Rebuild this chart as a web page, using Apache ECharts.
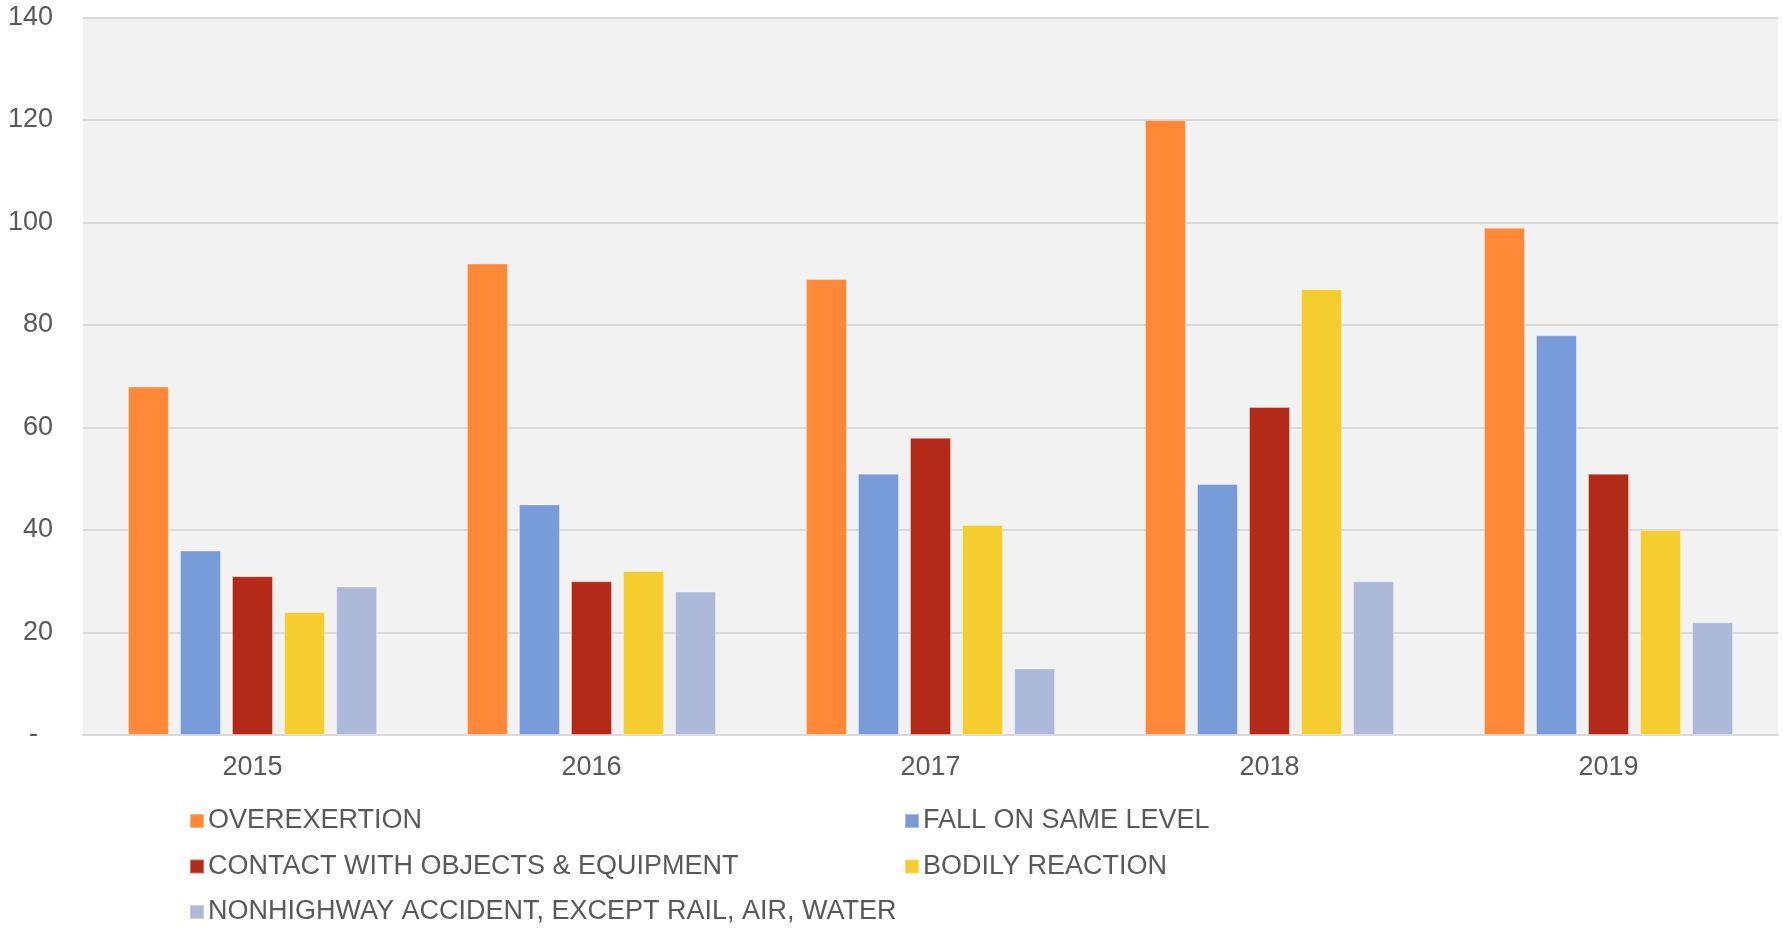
<!DOCTYPE html>
<html>
<head>
<meta charset="utf-8">
<script src="https://cdn.jsdelivr.net/npm/echarts@6/dist/echarts.min.js"></script>
<style>
html,body{margin:0;padding:0;background:#fff;}
#chart{width:1783px;height:928px;}
</style>
</head>
<body>
<div id="chart"></div>
<script>
const years = ['2015', '2016', '2017', '2018', '2019'];
const overexertion = [68, 92, 89, 120, 99];
const fallSameLevel = [36, 45, 51, 49, 78];
const contactObjects = [31, 30, 58, 64, 51];
const bodilyReaction = [24, 32, 41, 87, 40];
const nonhighway = [29, 28, 13, 30, 22];

const seriesNames = [
  'OVEREXERTION',
  'FALL ON SAME LEVEL',
  'CONTACT WITH OBJECTS & EQUIPMENT',
  'BODILY REACTION',
  'NONHIGHWAY ACCIDENT, EXCEPT RAIL, AIR, WATER'
];
const seriesData = [overexertion, fallSameLevel, contactObjects, bodilyReaction, nonhighway];
const colors = ['#FF8937', '#789CDA', '#B32B18', '#F5CD2F', '#ADB9D8'];

const legendPos = [
  {left: 189, top: 807.5},
  {left: 904, top: 807.5},
  {left: 189, top: 853},
  {left: 904, top: 853},
  {left: 189, top: 898.5}
];

const fontFam = '"Liberation Sans", Arial, sans-serif';

const chart = echarts.init(document.getElementById('chart'), null, {renderer: 'canvas'});
chart.setOption({
  animation: false,
  color: colors,
  grid: {
    left: 83, right: 5, top: 17.5, bottom: 193,
    show: true, backgroundColor: '#F2F2F2', borderWidth: 0
  },
  legend: seriesNames.map((n, i) => ({
    data: [n],
    left: legendPos[i].left,
    top: legendPos[i].top,
    itemWidth: 14,
    itemHeight: 14,
    itemGap: 0,
    icon: 'rect',
    padding: 0,
    selectedMode: false,
    textStyle: {fontFamily: fontFam, fontSize: 27, color: '#595959', padding: [0, 0, 0, -1]}
  })),
  xAxis: {
    type: 'category',
    data: years,
    axisLine: {show: true, lineStyle: {color: '#D9D9D9', width: 2}},
    axisTick: {show: false},
    axisLabel: {
      margin: 19,
      fontFamily: fontFam,
      fontSize: 27,
      color: '#595959'
    }
  },
  yAxis: {
    type: 'value',
    min: 0, max: 140, interval: 20,
    axisLine: {show: false},
    axisTick: {show: false},
    splitLine: {lineStyle: {color: '#D9D9D9', width: 2}},
    axisLabel: {
      margin: 30,
      fontFamily: fontFam,
      fontSize: 27,
      color: '#595959',
      formatter: v => v === 0 ? '-  ' : String(v)
    }
  },
  series: seriesNames.map((n, i) => ({
    name: n,
    type: 'bar',
    data: seriesData[i],
    barGap: '27%',
    barCategoryGap: '26.5%',
    itemStyle: {color: colors[i], borderColor: 'rgba(255,255,255,0.35)', borderWidth: 1}
  }))
});
</script>
</body>
</html>
